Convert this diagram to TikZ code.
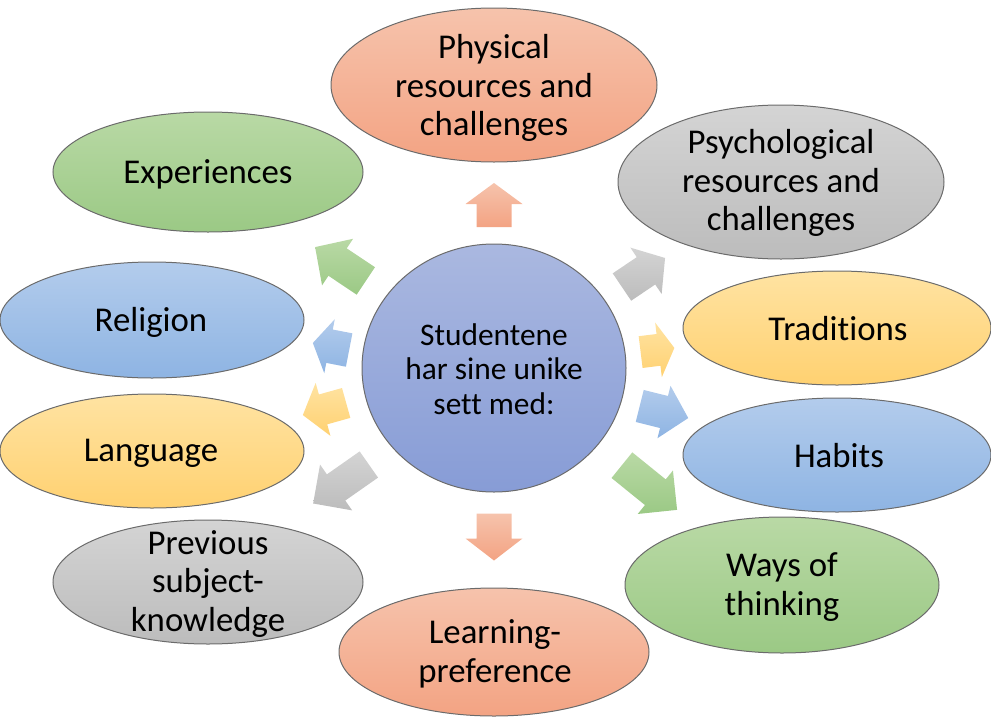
\documentclass[tikz,border=0pt]{standalone}
\usepackage{fontspec}
\setmainfont[Ligatures=NoCommon]{Carlito}
\usetikzlibrary{shapes.geometric,calc}
\definecolor{orT}{HTML}{F6C3AC}\definecolor{orB}{HTML}{F3A383}
\definecolor{grT}{HTML}{D4D4D4}\definecolor{grB}{HTML}{BCBCBC}
\definecolor{gnT}{HTML}{B9D9A5}\definecolor{gnB}{HTML}{9BC985}
\definecolor{blT}{HTML}{B3CCEC}\definecolor{blB}{HTML}{8EB4E3}
\definecolor{ylT}{HTML}{FFE3A2}\definecolor{ylB}{HTML}{FFD171}
\definecolor{ceT}{HTML}{AAB8E0}\definecolor{ceB}{HTML}{879CD6}
\definecolor{edgec}{HTML}{6B6B6B}
\tikzset{
  ell/.style={ellipse, draw=edgec, line width=0.5pt, inner sep=0pt, outer sep=0pt},
  lbl/.style={align=center, font=\fontsize{17.4}{19.2}\selectfont, inner sep=0pt},
  clbl/.style={align=center, font=\fontsize{15.7}{17.3}\selectfont, inner sep=0pt},
  shOr/.style={top color=orT, bottom color=orB},
  shGr/.style={top color=grT, bottom color=grB},
  shGn/.style={top color=gnT, bottom color=gnB},
  shBl/.style={top color=blT, bottom color=blB},
  shYl/.style={top color=ylT, bottom color=ylB},
  shCe/.style={top color=ceT, bottom color=ceB},
}
% cx cy angle L W S H style
\newcommand\blockarr[8]{%
  \shade[#8]
    ($(#1,#2)+({#3}:{#4/2})$) --
    ($(#1,#2)+({#3}:{#4/2-#7})+({#3+90}:{#5/2})$) --
    ($(#1,#2)+({#3}:{#4/2-#7})+({#3+90}:{#6/2})$) --
    ($(#1,#2)+({#3}:{-#4/2})+({#3+90}:{#6/2})$) --
    ($(#1,#2)+({#3}:{-#4/2})+({#3+90}:{-#6/2})$) --
    ($(#1,#2)+({#3}:{#4/2-#7})+({#3+90}:{-#6/2})$) --
    ($(#1,#2)+({#3}:{#4/2-#7})+({#3+90}:{-#5/2})$) -- cycle;}
\begin{document}
\begin{tikzpicture}[x=0.5pt,y=-0.5pt]
\useasboundingbox (0,0) rectangle (991,718);
% outer ellipses
\node[ell,shOr,minimum width=163pt,minimum height=77pt] (phys) at (494,85) {};
\node[lbl] at (494,88) {Physical\\resources and\\challenges};
\node[ell,shGr,minimum width=163pt,minimum height=77pt] (psych) at (781,182) {};
\node[lbl] at (781,183) {Psychological\\resources and\\challenges};
\node[ell,shGn,minimum width=155pt,minimum height=60pt] (exp) at (208,172) {};
\node[lbl] at (208,174) {Experiences};
\node[ell,shBl,minimum width=152pt,minimum height=58pt] (rel) at (152,320) {};
\node[lbl] at (151,322) {Religion};
\node[ell,shYl,minimum width=154pt,minimum height=57pt] (trad) at (837,328) {};
\node[lbl] at (838,329) {Traditions};
\node[ell,shYl,minimum width=152pt,minimum height=57pt] (lang) at (152,451) {};
\node[lbl] at (151,453) {Language};
\node[ell,shBl,minimum width=154pt,minimum height=57pt] (hab) at (837,455) {};
\node[lbl] at (839,456) {Habits};
\node[ell,shGr,minimum width=155pt,minimum height=62pt] (prev) at (208,582) {};
\node[lbl] at (208,584) {Previous\\subject-\\knowledge};
\node[ell,shGn,minimum width=157pt,minimum height=68pt] (ways) at (782,585) {};
\node[lbl] at (782,587) {Ways of\\thinking};
\node[ell,shOr,minimum width=155pt,minimum height=64pt] (learn) at (494,652) {};
\node[lbl] at (495,654) {Learning-\\preference};
% centre
\node[ell,shCe,minimum width=132pt,minimum height=124pt] (cen) at (494,368) {};
\node[clbl] at (494,369) {Studentene\\har sine unike\\sett med:};
% block arrows
\blockarr{494}{205}{-90}{44}{57}{35}{21}{shOr}
\blockarr{494}{537}{90}{47}{57}{35}{22}{shOr}
\blockarr{340.5}{264}{-146.3}{61}{56}{33}{27}{shGn}
\blockarr{331}{346.5}{-169}{37}{55}{34}{17}{shBl}
\blockarr{324.5}{409}{164.4}{45}{55}{31}{21}{shYl}
\blockarr{341}{484}{145}{68}{56}{32}{28}{shGr}
\blockarr{643.5}{272.5}{-34}{52}{56}{33}{23}{shGr}
\blockarr{657.5}{350}{-7}{34}{55}{32}{16}{shYl}
\blockarr{664}{412}{14}{50}{54}{33}{25}{shBl}
\blockarr{649.5}{487.5}{39}{71}{56}{33}{28}{shGn}
\end{tikzpicture}
\end{document}
